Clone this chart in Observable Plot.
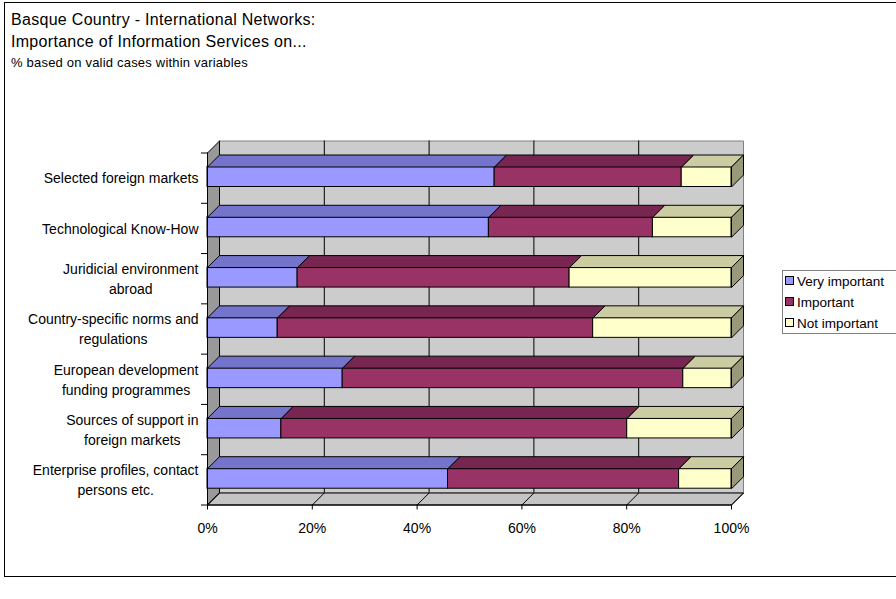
<!DOCTYPE html>
<html>
<head>
<meta charset="utf-8">
<script src="https://cdn.jsdelivr.net/npm/d3@7"></script>
<script src="https://cdn.jsdelivr.net/npm/@observablehq/plot@0.6"></script>
<style>
  html, body { margin: 0; padding: 0; background: #fff; }
  body { font-family: "Liberation Sans", Arial, sans-serif; color: #000; }
  #wrap { position: relative; width: 896px; height: 599px; overflow: hidden; background: #fff; }
  #frame { position: absolute; left: 4px; top: 2px; width: 900px; height: 575px; border: 1px solid #000; box-sizing: border-box; }
  .t { position: absolute; left: 11px; white-space: nowrap; line-height: 1; }
  #t1 { top: 12px; font-size: 16px; letter-spacing: 0.3px; }
  #t2 { top: 34px; font-size: 16px; letter-spacing: 0.3px; }
  #t3 { top: 56px; font-size: 13px; letter-spacing: 0.2px; }
  #chart { position: absolute; left: 0; top: 0; }
  #legend { position: absolute; left: 782px; top: 270px; width: 130px; height: 64px; border: 1px solid #808080; box-sizing: border-box; background: #fff; }
  .li { position: absolute; left: 2px; height: 16px; font-size: 13.5px; line-height: 16px; white-space: nowrap; }
  .sw { display: inline-block; width: 7px; height: 7px; border: 1px solid #000; margin-right: 3px; vertical-align: 1px; }
</style>
</head>
<body>
<div id="wrap">
  <div id="frame"></div>
  <div class="t" id="t1">Basque Country - International Networks:</div>
  <div class="t" id="t2">Importance of Information Services on...</div>
  <div class="t" id="t3">% based on valid cases within variables</div>
  <div id="chart"></div>
  <div id="legend"></div>
</div>
<script>
// ---- data ----
const categories = [
  "Selected foreign markets",
  "Technological Know-How",
  "Juridicial environment\nabroad",
  "Country-specific norms and\nregulations",
  "European development\nfunding programmes",
  "Sources of support in\nforeign markets",
  "Enterprise profiles, contact\npersons etc."
];
const series = ["Very important", "Important", "Not important"];
const veryImportant = [54.8, 53.7, 17.2, 13.4, 25.8, 14.1, 45.9];
const important     = [35.7, 31.3, 51.9, 60.2, 65.0, 66.0, 44.1];
const notImportant  = [ 9.5, 15.0, 30.9, 26.4,  9.2, 19.9, 10.0];
const xTicks = [0, 20, 40, 60, 80, 100];

// ---- styles ----
const frontColors = ["#9999ff", "#993366", "#ffffcc"];
const topColors   = ["#7474cc", "#762650", "#cccca3"];
const endColor    = "#99997a";

// ---- layout ----
const W = 896, H = 599;
const mL = 207, mR = 165, mT = 152.5, mB = 94.5;
const nCat = categories.length;
const bandPx = (H - mT - mB) / nCat;
const depthPx = 12;
const DX = depthPx / (W - mL - mR) * 100;   // depth in x units
const DY = depthPx / bandPx;                // depth in y units
const BT = 14 / bandPx, BB = 34 / bandPx;   // bar front face within band

// stacked segments
const values = [veryImportant, important, notImportant];
const segs = [];
categories.forEach((c, k) => {
  let acc = 0;
  values.forEach((arr, s) => {
    segs.push({k, s, x1: acc, x2: acc + arr[k]});
    acc += arr[k];
  });
});

function poly(id, pts) {
  return pts.concat([pts[0]]).map(([x, y]) => ({id, x, y}));
}
const backWall = poly("back", [[DX, -DY], [100 + DX, -DY], [100 + DX, nCat - DY], [DX, nCat - DY]]);
const leftWall = poly("left", [[0, 0], [DX, -DY], [DX, nCat - DY], [0, nCat]]);
const floor = poly("floor", [[0, nCat], [100, nCat], [100 + DX, nCat - DY], [DX, nCat - DY]]);

const topFaces = [[], [], []];
segs.forEach((d, i) => {
  const yt = d.k + BT;
  topFaces[d.s].push(...poly("t" + i, [[d.x1, yt], [d.x2, yt], [d.x2 + DX, yt - DY], [d.x1 + DX, yt - DY]]));
});
const endFaces = [];
segs.filter(d => d.s === series.length - 1).forEach((d, i) => {
  const yt = d.k + BT, yb = d.k + BB;
  endFaces.push(...poly("e" + i, [[d.x2, yt], [d.x2 + DX, yt - DY], [d.x2 + DX, yb - DY], [d.x2, yb]]));
});

const polyOpts = (fill, stroke = "#000") => ({x: "x", y: "y", z: "id", fill, stroke, strokeWidth: 1, curve: "linear", strokeLinejoin: "miter"});

// measure labels for centered multi-line text
const ctx = document.createElement("canvas").getContext("2d");
const labelFont = 14;
ctx.font = `${labelFont}px "Liberation Sans"`;
const labelMarks = categories.map((c, k) => {
  const w = d3.max(c.split("\n"), s => ctx.measureText(s).width);
  return Plot.text([c], {
    x: 0, y: k + (BT + BB) / 2, text: d => d,
    textAnchor: "middle", dx: -9 - w / 2, lineHeight: 20 / labelFont,
    fontSize: labelFont, fill: "#000"
  });
});

const chart = Plot.plot({
  width: W, height: H,
  marginLeft: mL, marginRight: mR, marginTop: mT, marginBottom: mB,
  x: {domain: [0, 100], label: null},
  y: {domain: [0, nCat], reverse: true, label: null},
  style: {fontFamily: '"Liberation Sans", Arial, sans-serif', fontSize: "14px", background: "transparent", overflow: "visible", color: "#000"},
  marks: [
    Plot.line(backWall, polyOpts("#cccccc", "#808080")),
    Plot.line(leftWall, polyOpts("#999999", "#000")),
    Plot.line(floor, polyOpts("#c4c4c4", "#000")),
    Plot.ruleX(xTicks.slice(1, -1), {x: d => d + DX, y1: -DY, y2: nCat - DY, stroke: "#000", strokeWidth: 1}),
    Plot.link(xTicks, {x1: d => d, y1: nCat, x2: d => d + DX, y2: nCat - DY, stroke: "#000", strokeWidth: 1}),
    ...series.map((s, i) => Plot.rect(segs.filter(d => d.s === i), {
      x1: "x1", x2: "x2", y1: d => d.k + BT, y2: d => d.k + BB,
      fill: frontColors[i], stroke: "#000", strokeWidth: 1
    })),
    ...series.map((s, i) => Plot.line(topFaces[i], polyOpts(topColors[i]))),
    Plot.line(endFaces, polyOpts(endColor)),
    Plot.ruleX([0], {y1: 0, y2: nCat, stroke: "#000", strokeWidth: 1}),
    Plot.ruleY([nCat], {x1: 0, x2: 100, stroke: "#000", strokeWidth: 1}),
    Plot.axisY({ticks: d3.range(0, nCat + 1), tickSize: 6, tickFormat: () => "", stroke: "#000", label: null}),
    Plot.axisX({ticks: xTicks, tickSize: 5, tickFormat: () => "", stroke: "#000", label: null}),
    Plot.text(xTicks, {x: d => d, y: nCat, text: d => `${d}%`, dy: 24, fontSize: 14, fill: "#000"}),
    ...labelMarks
  ]
});
document.getElementById("chart").appendChild(chart);

// legend
const legend = document.getElementById("legend");
series.forEach((s, i) => {
  const row = document.createElement("div");
  row.className = "li";
  row.style.top = (3 + i * 21) + "px";
  row.innerHTML = `<span class="sw" style="background:${frontColors[i]}"></span>${s}`;
  legend.appendChild(row);
});
</script>
</body>
</html>
